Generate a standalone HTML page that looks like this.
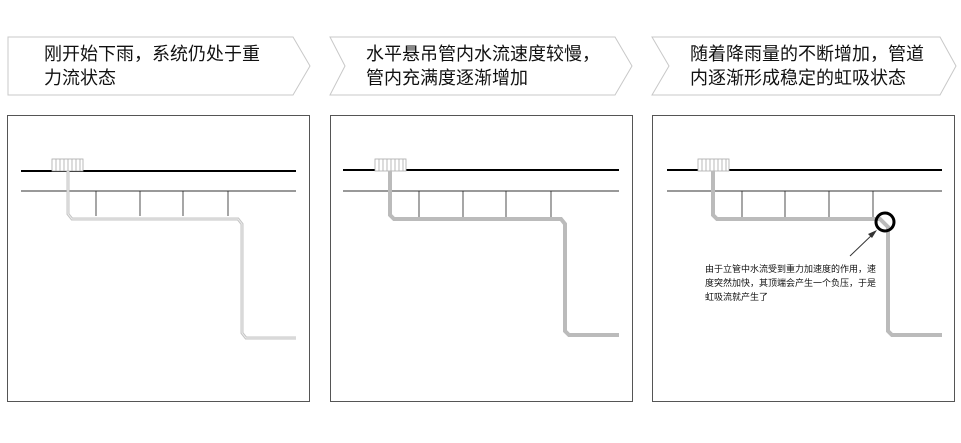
<!DOCTYPE html>
<html><head><meta charset="utf-8"><style>
body{margin:0;background:#fff;width:961px;height:443px;overflow:hidden}
svg{display:block}
text{font-family:"Liberation Sans","Noto Sans CJK SC",sans-serif;fill:#111}
</style></head><body>
<svg width="961" height="443" viewBox="0 0 961 443" xmlns="http://www.w3.org/2000/svg">
<defs>
<g id="grate">
<rect x="0" y="0" width="31" height="12" fill="#fff" stroke="#aaa" stroke-width="0.8"/>
<path d="M4 0V12M8 0V12M12 0V12M16 0V12M20 0V12M24 0V12M28 0V12" stroke="#aaa" stroke-width="0.8"/>
</g>
</defs>
<g fill="#fff" stroke="#c8c8c8" stroke-width="1">
<polygon points="8,37 293,37 310,66 293,95 8,95"/>
<polygon points="330,37 615,37 632,66 615,95 330,95 345,66"/>
<polygon points="652,37 940,37 956,66 940,95 652,95 669,66"/>
</g>
<g font-size="18">
<text x="44" y="60">刚开始下雨，系统仍处于重</text>
<text x="44" y="84">力流状态</text>
<text x="366" y="60">水平悬吊管内水流速度较慢，</text>
<text x="366" y="84">管内充满度逐渐增加</text>
<text x="690" y="60">随着降雨量的不断增加，管道</text>
<text x="690" y="84">内逐渐形成稳定的虹吸状态</text>
</g>
<g fill="none" stroke="#555" stroke-width="1">
<rect x="7.5" y="115.5" width="302" height="286"/>
<rect x="330.5" y="115.5" width="302" height="286"/>
<rect x="652.5" y="115.5" width="302" height="286"/>
</g>
<g>
<line x1="21" y1="171" x2="296" y2="171" stroke="#000" stroke-width="2"/>
<line x1="21" y1="191" x2="296" y2="191" stroke="#333" stroke-width="1"/>
<use href="#grate" x="52" y="159"/>
<path d="M68 171V214L72 219H238L242 224V333L246 338H296" fill="none" stroke="#c4c4c4" stroke-width="3"/>
<path d="M68 171V214L72 219H238L242 224V333L246 338H296" fill="none" stroke="#eee" stroke-width="1"/>
<g stroke="#222" stroke-width="0.8"><line x1="96" y1="191" x2="96" y2="216"/><line x1="140" y1="191" x2="140" y2="216"/><line x1="183" y1="191" x2="183" y2="216"/><line x1="228" y1="191" x2="228" y2="216"/></g>
</g>
<g>
<line x1="343" y1="170" x2="619" y2="170" stroke="#000" stroke-width="2"/>
<line x1="343" y1="191" x2="619" y2="191" stroke="#333" stroke-width="1"/>
<use href="#grate" x="375" y="159"/>
<path d="M390 171V215L394 219H561L565 224V331L569 335H619" fill="none" stroke="#bbb" stroke-width="4"/>
<g stroke="#222" stroke-width="0.8"><line x1="419" y1="191" x2="419" y2="217"/><line x1="463" y1="191" x2="463" y2="217"/><line x1="506" y1="191" x2="506" y2="217"/><line x1="551" y1="191" x2="551" y2="217"/></g>
</g>
<g>
<line x1="667" y1="170" x2="942" y2="170" stroke="#000" stroke-width="2"/>
<line x1="667" y1="191" x2="942" y2="191" stroke="#333" stroke-width="1"/>
<use href="#grate" x="698" y="159"/>
<path d="M713 171V215L717 219H880L888 227V331L892 335H942" fill="none" stroke="#bbb" stroke-width="4"/>
<g stroke="#222" stroke-width="0.8"><line x1="742" y1="191" x2="742" y2="217"/><line x1="785" y1="191" x2="785" y2="217"/><line x1="829" y1="191" x2="829" y2="217"/><line x1="873" y1="191" x2="873" y2="217"/></g>
<circle cx="885" cy="222" r="9" fill="none" stroke="#000" stroke-width="3"/>
<line x1="850" y1="256" x2="874" y2="233" stroke="#333" stroke-width="1"/>
<polygon points="877,230 868,234 872,238" fill="#333"/>
<g font-size="9">
<text x="705" y="272">由于立管中水流受到重力加速度的作用，速</text>
<text x="705" y="286">度突然加快，其顶端会产生一个负压，于是</text>
<text x="705" y="300">虹吸流就产生了</text>
</g>
</g>
</svg>
</body></html>
